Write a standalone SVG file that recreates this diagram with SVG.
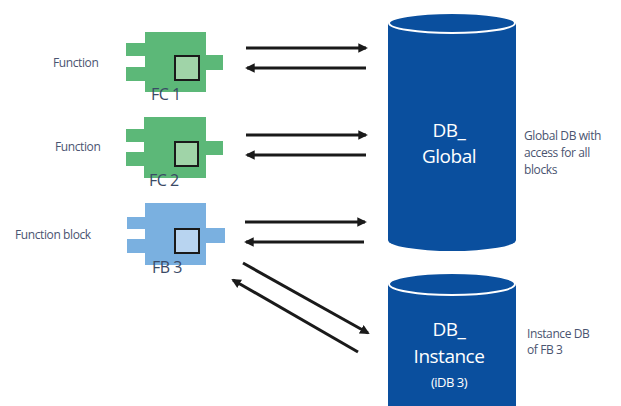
<svg xmlns="http://www.w3.org/2000/svg" width="621" height="406" viewBox="0 0 621 406">
<defs>
<style>
.lbl{font-family:"Open Sans","Noto Sans",sans-serif;font-size:12px;fill:#4a5470;letter-spacing:-0.4px}
.blk{font-family:"Open Sans","Noto Sans",sans-serif;font-size:16px;fill:#3a4a66;letter-spacing:-0.5px}
.fc{fill:#5cb878}
.fci{fill:#a0d4a8;stroke:#1a1a1a;stroke-width:2}
.fb{fill:#7ab0e0}
.fbi{fill:#b8d4f0;stroke:#1a1a1a;stroke-width:2}
.db{fill:#0a4f9e}
.dbt{fill:#0a4f9e;stroke:#ffffff;stroke-width:2}
.dbtxt{font-family:"Open Sans","Noto Sans",sans-serif;font-size:19px;fill:#ffffff;text-anchor:middle;letter-spacing:-0.5px}
.ar{stroke:#1a1a1a;stroke-width:3;fill:none;marker-end:url(#ah)}
</style>
<marker id="ah" viewBox="0 0 10 10" refX="8" refY="5" markerWidth="3.2" markerHeight="3.2" orient="auto" markerUnits="strokeWidth">
<path d="M0,0 L10,5 L0,10 z" fill="#1a1a1a"/>
</marker>
</defs>

<g id="fc1">
<text class="lbl" x="53" y="67">Function</text>
<rect class="fc" x="145" y="32" width="61" height="60"/>
<rect class="fc" x="126" y="43" width="20" height="13"/>
<rect class="fc" x="126" y="67" width="20" height="14"/>
<rect class="fc" x="205" y="55" width="18" height="15"/>
<rect class="fci" x="175" y="56" width="24" height="24"/>
<text class="blk" x="151" y="100">FC 1</text>
</g>

<g id="fc2">
<text class="lbl" x="55" y="151">Function</text>
<rect class="fc" x="144" y="117" width="62" height="61"/>
<rect class="fc" x="126" y="129" width="19" height="13"/>
<rect class="fc" x="126" y="152" width="19" height="14"/>
<rect class="fc" x="205" y="141" width="18" height="14"/>
<rect class="fci" x="175" y="142" width="23" height="24"/>
<text class="blk" x="149" y="186">FC 2</text>
</g>

<g id="fb3">
<text class="lbl" x="15" y="239">Function block</text>
<rect class="fb" x="145" y="203" width="61" height="62"/>
<rect class="fb" x="127" y="217" width="19" height="12"/>
<rect class="fb" x="127" y="239" width="19" height="14"/>
<rect class="fb" x="205" y="228" width="20" height="15"/>
<rect class="fbi" x="175" y="229" width="24" height="24"/>
<text class="blk" x="152" y="273">FB 3</text>
</g>

<g id="db_global">
<path class="db" d="M388,23 L388,240 A64,11 0 0 0 516,240 L516,23 Z"/>
<ellipse class="dbt" cx="452" cy="23" rx="63" ry="10"/>
<text class="dbtxt" x="449" y="137">DB_</text>
<text class="dbtxt" x="449" y="163">Global</text>
<text class="lbl" x="524" y="140">Global DB with</text>
<text class="lbl" x="524" y="157">access for all</text>
<text class="lbl" x="524" y="174">blocks</text>
</g>

<g id="db_instance">
<path class="db" d="M388,284 L388,410 L516,410 L516,284 Z"/>
<ellipse class="dbt" cx="452" cy="284" rx="63" ry="11"/>
<text class="dbtxt" x="449" y="336">DB_</text>
<text class="dbtxt" x="449" y="363">Instance</text>
<text class="dbtxt" x="449" y="387" style="font-size:13px">(iDB 3)</text>
<text class="lbl" x="527" y="338">Instance DB</text>
<text class="lbl" x="527" y="354">of FB 3</text>
</g>

<g id="connectors">
<line class="ar" x1="246" y1="48" x2="366" y2="48"/>
<line class="ar" x1="366" y1="68" x2="247" y2="68"/>
<line class="ar" x1="246" y1="135" x2="366" y2="135"/>
<line class="ar" x1="366" y1="155" x2="247" y2="155"/>
<line class="ar" x1="245" y1="222" x2="365" y2="222"/>
<line class="ar" x1="364" y1="242" x2="246" y2="242"/>
<line class="ar" x1="243" y1="263" x2="368" y2="333"/>
<line class="ar" x1="358" y1="352" x2="233" y2="280"/>
</g>
</svg>
